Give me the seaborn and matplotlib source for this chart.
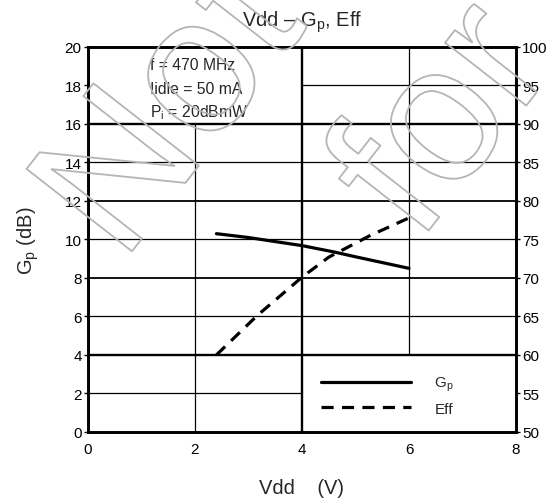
import numpy as np
import pandas as pd
import matplotlib
matplotlib.use("Agg")
import matplotlib.pyplot as plt
import matplotlib.patheffects as pe
from matplotlib.lines import Line2D
import seaborn as sns

# ---------------------------------------------------------------
# data
# ---------------------------------------------------------------
vdd_gp = [2.4, 3.0, 4.0, 4.6, 5.0, 6.0]
gp_db = [10.3, 10.1, 9.68, 9.35, 9.1, 8.5]

vdd_eff = [2.4, 3.16, 4.0, 4.5, 5.27, 6.0]
eff_pct = [60.0, 65.1, 70.1, 72.7, 75.5, 77.8]

x_ticks = [0, 2, 4, 6, 8]
gp_ticks = [0, 2, 4, 6, 8, 10, 12, 14, 16, 18, 20]
eff_ticks = [50, 55, 60, 65, 70, 75, 80, 85, 90, 95, 100]

cond_lines = ["f = 470 MHz", "Iidle = 50 mA", r"$\mathregular{P_i}$ = 20dBmW"]

df_gp = pd.DataFrame({"Vdd": vdd_gp, "Gp": gp_db})
df_eff = pd.DataFrame({"Vdd": vdd_eff, "Eff": eff_pct})

sns.set_style("white")
plt.rcParams["font.family"] = ["Liberation Sans", "DejaVu Sans"]
plt.rcParams["mathtext.fontset"] = "custom"
plt.rcParams["mathtext.rm"] = "Liberation Sans"

fig = plt.figure(figsize=(5.52, 5.02), dpi=100)
ax = fig.add_axes([0.1594, 0.1375, 0.7754, 0.767])
ax2 = ax.twinx()

# chart grid (datasheet style, broken by the two text boxes)
ax.hlines([14, 10, 6], 0, 8, color="black", lw=0.9, zorder=1)
ax.hlines([12, 8], 0, 8, color="black", lw=1.3, zorder=1)
ax.hlines([16, 4], 0, 8, color="black", lw=1.7, zorder=1)
ax.hlines(18, 4, 8, color="black", lw=0.9, zorder=1)
ax.hlines(2, 0, 4, color="black", lw=0.9, zorder=1)
ax.vlines(2, 0, 16, color="black", lw=0.9, zorder=1)
ax.vlines(6, 4, 20, color="black", lw=0.9, zorder=1)
ax.vlines(4, 0, 20, color="black", lw=1.7, zorder=1)

sns.lineplot(data=df_gp, x="Vdd", y="Gp", ax=ax, color="black", lw=2.3, zorder=3)
sns.lineplot(data=df_eff, x="Vdd", y="Eff", ax=ax2, color="black", lw=2.3,
             dashes=False, zorder=3)
ax2.lines[0].set_dashes((3.8, 2.6))

ax.set_xlim(0, 8)
ax.set_ylim(0, 20)
ax2.set_ylim(50, 100)
ax.set_xticks(x_ticks)
ax.set_yticks(gp_ticks)
ax2.set_yticks(eff_ticks)

for a in (ax, ax2):
    for s in a.spines.values():
        s.set_linewidth(1.9)
        s.set_color("black")
ax.tick_params(axis="y", direction="out", length=3, width=1, pad=1.5, labelsize=11, colors="black")
ax.tick_params(axis="x", length=0, pad=7, labelsize=11, colors="black")
ax2.tick_params(axis="y", direction="out", length=3, width=1, pad=1.5, labelsize=11, colors="black")

ax.set_xlabel("Vdd    (V)", fontsize=14.5, labelpad=16)
ax.set_ylabel(r"$\mathregular{G_p}$ (dB)", fontsize=14.5, labelpad=17)
ax2.set_ylabel("")
ax.set_title(r"Vdd – $\mathregular{G_p}$, Eff", fontsize=14.5, pad=15)

# measurement conditions box
for yy, txt in zip([19.09, 17.84, 16.65], cond_lines):
    ax.text(1.16, yy, txt, fontsize=11.3, va="center", ha="left")

# legend box at lower right
handles = [Line2D([], [], color="black", lw=2.3),
           Line2D([], [], color="black", lw=2.3, dashes=(3.8, 2.6))]
ax.legend(handles, [r"$\mathregular{G_p}$", "Eff"], loc="center",
          bbox_to_anchor=(0.70, 0.095), frameon=False, fontsize=11,
          handlelength=5.9, handletextpad=1.5, labelspacing=0.55)

# outlined watermark
halo = [pe.withStroke(linewidth=1.3, foreground="#b5b5b5")]
fig.text(0.318, 0.772, "Not", fontsize=140, rotation=52, ha="center", va="center",
         rotation_mode="anchor", color="none", path_effects=halo, zorder=5)
fig.text(0.812, 0.752, "for", fontsize=140, rotation=52, ha="center", va="center",
         rotation_mode="anchor", color="none", path_effects=halo, zorder=5)

fig.savefig("out.png", dpi=100)
